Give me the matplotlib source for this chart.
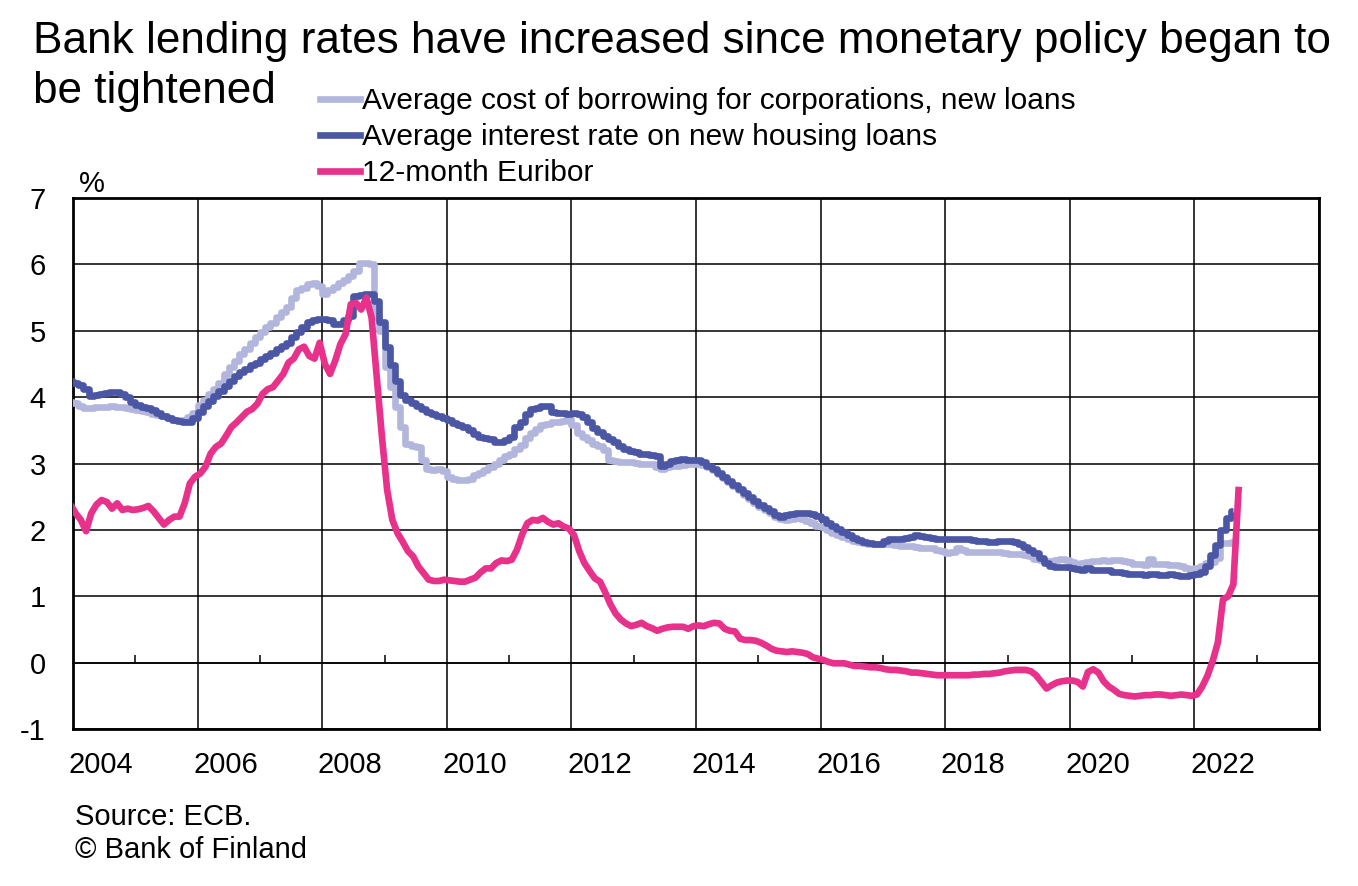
import numpy as np
import pandas as pd
import matplotlib.pyplot as plt
from matplotlib.lines import Line2D

plt.rcParams['font.family'] = ['Liberation Sans', 'DejaVu Sans']

# monthly values, starting Dec 2003
START = "2003-12-01"

corporate = [
    3.92,
    3.91, 3.86, 3.83, 3.84, 3.85, 3.85, 3.85, 3.86, 3.85, 3.85, 3.84, 3.82,   # 2004
    3.80, 3.79, 3.77, 3.75, 3.73, 3.71, 3.68, 3.66, 3.65, 3.65, 3.70, 3.76,   # 2005
    3.88, 3.95, 4.05, 4.12, 4.22, 4.35, 4.45, 4.55, 4.65, 4.72, 4.82, 4.90,   # 2006
    4.98, 5.06, 5.12, 5.20, 5.28, 5.36, 5.50, 5.62, 5.64, 5.70, 5.72, 5.68,   # 2007
    5.56, 5.62, 5.66, 5.72, 5.76, 5.82, 5.90, 6.02, 6.02, 6.01, 5.21, 5.00,   # 2008
    4.46, 4.15, 3.85, 3.55, 3.30, 3.27, 3.25, 3.05, 2.92, 2.90, 2.92, 2.88,   # 2009
    2.80, 2.77, 2.75, 2.75, 2.77, 2.82, 2.86, 2.90, 2.94, 3.00, 3.06, 3.12,   # 2010
    3.15, 3.22, 3.28, 3.38, 3.46, 3.52, 3.58, 3.60, 3.62, 3.63, 3.64, 3.67,   # 2011
    3.58, 3.46, 3.40, 3.35, 3.30, 3.26, 3.20, 3.06, 3.04, 3.03, 3.03, 3.02,   # 2012
    3.01, 3.00, 3.00, 2.99, 2.95, 2.92, 2.95, 2.96, 2.97, 2.98, 2.99, 3.00,   # 2013
    3.00, 2.98, 2.95, 2.90, 2.84, 2.78, 2.72, 2.66, 2.60, 2.53, 2.47, 2.40,   # 2014
    2.35, 2.30, 2.25, 2.20, 2.16, 2.15, 2.16, 2.18, 2.17, 2.13, 2.10, 2.06,   # 2015
    2.04, 2.00, 1.96, 1.92, 1.90, 1.87, 1.84, 1.82, 1.80, 1.79, 1.78, 1.78,   # 2016
    1.78, 1.78, 1.77, 1.76, 1.76, 1.75, 1.74, 1.73, 1.73, 1.72, 1.70, 1.68,   # 2017
    1.65, 1.67, 1.73, 1.70, 1.66, 1.66, 1.66, 1.66, 1.66, 1.66, 1.66, 1.65,   # 2018
    1.64, 1.63, 1.63, 1.62, 1.60, 1.56, 1.54, 1.53, 1.53, 1.54, 1.56, 1.55,   # 2019
    1.52, 1.48, 1.50, 1.52, 1.53, 1.53, 1.54, 1.53, 1.54, 1.54, 1.53, 1.51,   # 2020
    1.49, 1.48, 1.47, 1.56, 1.48, 1.48, 1.48, 1.47, 1.47, 1.45, 1.42, 1.40,   # 2021
    1.43, 1.45, 1.50, 1.52, 1.58, 1.80, 1.80, 1.82,                           # 2022
]

housing = [
    4.24,
    4.22, 4.18, 4.12, 4.02, 4.03, 4.04, 4.06, 4.07, 4.07, 4.05, 4.00, 3.93,   # 2004
    3.88, 3.85, 3.83, 3.80, 3.76, 3.72, 3.68, 3.65, 3.64, 3.63, 3.63, 3.68,   # 2005
    3.78, 3.86, 3.94, 4.02, 4.10, 4.17, 4.24, 4.32, 4.38, 4.43, 4.48, 4.52,   # 2006
    4.58, 4.62, 4.67, 4.72, 4.77, 4.82, 4.90, 4.98, 5.06, 5.13, 5.16, 5.18,   # 2007
    5.18, 5.16, 5.10, 5.10, 5.16, 5.22, 5.52, 5.54, 5.55, 5.55, 5.45, 5.13,   # 2008
    4.76, 4.48, 4.25, 4.03, 3.96, 3.91, 3.86, 3.82, 3.78, 3.75, 3.71, 3.68,   # 2009
    3.65, 3.61, 3.58, 3.55, 3.50, 3.44, 3.40, 3.38, 3.37, 3.33, 3.33, 3.36,   # 2010
    3.40, 3.55, 3.62, 3.74, 3.82, 3.84, 3.86, 3.87, 3.78, 3.76, 3.76, 3.75,   # 2011
    3.76, 3.75, 3.70, 3.62, 3.54, 3.48, 3.42, 3.37, 3.32, 3.26, 3.22, 3.19,   # 2012
    3.17, 3.15, 3.14, 3.13, 3.12, 2.97, 2.99, 3.04, 3.05, 3.07, 3.06, 3.05,   # 2013
    3.05, 3.03, 2.97, 2.92, 2.86, 2.80, 2.74, 2.68, 2.61, 2.55, 2.49, 2.44,   # 2014
    2.38, 2.33, 2.28, 2.22, 2.19, 2.22, 2.24, 2.25, 2.26, 2.26, 2.24, 2.21,   # 2015
    2.17, 2.11, 2.06, 2.01, 1.97, 1.93, 1.88, 1.85, 1.82, 1.80, 1.78, 1.79,   # 2016
    1.84, 1.86, 1.86, 1.87, 1.88, 1.90, 1.93, 1.91, 1.89, 1.88, 1.87, 1.86,   # 2017
    1.86, 1.86, 1.86, 1.86, 1.86, 1.85, 1.84, 1.83, 1.82, 1.82, 1.83, 1.83,   # 2018
    1.83, 1.81, 1.78, 1.74, 1.70, 1.65, 1.58, 1.50, 1.46, 1.44, 1.44, 1.44,   # 2019
    1.42, 1.41, 1.40, 1.42, 1.40, 1.40, 1.39, 1.39, 1.37, 1.36, 1.35, 1.34,   # 2020
    1.33, 1.33, 1.32, 1.33, 1.33, 1.32, 1.32, 1.33, 1.32, 1.30, 1.31, 1.32,   # 2021
    1.33, 1.36, 1.45, 1.62, 1.77, 2.00, 2.18, 2.28,                           # 2022
]

euribor = [
    2.38,
    2.25, 2.15, 1.98, 2.25, 2.38, 2.45, 2.42, 2.32, 2.40, 2.30, 2.32, 2.30,   # 2004
    2.31, 2.33, 2.36, 2.28, 2.18, 2.08, 2.15, 2.20, 2.20, 2.40, 2.70, 2.80,   # 2005
    2.85, 2.95, 3.15, 3.25, 3.30, 3.42, 3.55, 3.62, 3.70, 3.78, 3.82, 3.90,   # 2006
    4.05, 4.12, 4.15, 4.25, 4.35, 4.52, 4.58, 4.72, 4.76, 4.62, 4.58, 4.82,   # 2007
    4.50, 4.35, 4.55, 4.80, 4.95, 5.40, 5.42, 5.32, 5.50, 5.20, 4.30, 3.40,   # 2008
    2.60, 2.15, 1.95, 1.82, 1.68, 1.60, 1.45, 1.35, 1.25, 1.23, 1.23, 1.25,   # 2009
    1.24, 1.23, 1.22, 1.22, 1.25, 1.28, 1.36, 1.42, 1.42, 1.50, 1.54, 1.53,   # 2010
    1.55, 1.70, 1.93, 2.10, 2.15, 2.14, 2.18, 2.12, 2.08, 2.10, 2.05, 2.02,   # 2011
    1.92, 1.68, 1.50, 1.38, 1.27, 1.22, 1.06, 0.88, 0.74, 0.65, 0.59, 0.55,   # 2012
    0.57, 0.60, 0.55, 0.52, 0.48, 0.51, 0.53, 0.54, 0.54, 0.54, 0.51, 0.55,   # 2013
    0.56, 0.55, 0.58, 0.60, 0.59, 0.51, 0.48, 0.47, 0.36, 0.34, 0.34, 0.33,   # 2014
    0.30, 0.26, 0.21, 0.18, 0.17, 0.16, 0.17, 0.16, 0.15, 0.13, 0.08, 0.06,   # 2015
    0.04, 0.01, -0.01, -0.01, -0.01, -0.03, -0.05, -0.05, -0.06, -0.07, -0.07, -0.08,  # 2016
    -0.10, -0.11, -0.11, -0.12, -0.13, -0.15, -0.15, -0.16, -0.17, -0.18, -0.19, -0.19,  # 2017
    -0.19, -0.19, -0.19, -0.19, -0.19, -0.18, -0.18, -0.17, -0.17, -0.16, -0.15, -0.13,  # 2018
    -0.12, -0.11, -0.11, -0.11, -0.13, -0.19, -0.29, -0.39, -0.34, -0.30, -0.28, -0.27,  # 2019
    -0.27, -0.29, -0.36, -0.14, -0.10, -0.15, -0.28, -0.36, -0.41, -0.47, -0.49, -0.50,  # 2020
    -0.51, -0.50, -0.49, -0.49, -0.48, -0.48, -0.49, -0.50, -0.49, -0.48, -0.49, -0.50,  # 2021
    -0.48, -0.36, -0.20, 0.02, 0.30, 0.95, 1.00, 1.18, 2.60,                  # 2022
]

labels = [
    "Average cost of borrowing for corporations, new loans",
    "Average interest rate on new housing loans",
    "12-month Euribor",
]
colors = ["#b3b6dc", "#4b56a4", "#e8318a"]

TITLE_1 = "Bank lending rates have increased since monetary policy began to"
TITLE_2 = "be tightened"


def decimal_months(n):
    d = pd.date_range(START, periods=n, freq="MS")
    # mid-month position in decimal years
    return d.year + (d.month - 1) / 12 + 1 / 24


def main():
    fig, ax = plt.subplots(figsize=(13.58, 8.86), dpi=100)
    fig.subplots_adjust(left=0.0538, right=0.9713, top=0.7765, bottom=0.1772)

    lw = 4.8
    ax.plot(decimal_months(len(corporate)), corporate, color=colors[0], lw=lw,
            drawstyle="steps-mid", solid_capstyle="butt", zorder=3)
    ax.plot(decimal_months(len(housing)), housing, color=colors[1], lw=lw,
            drawstyle="steps-mid", solid_capstyle="butt", zorder=4)
    ax.plot(decimal_months(len(euribor)), euribor, color=colors[2], lw=lw,
            solid_joinstyle="round", zorder=5)

    ax.set_xlim(2004, 2024)
    ax.set_ylim(-1, 7)
    ax.set_yticks(np.arange(-1, 8, 1))
    ax.set_yticklabels([str(v) for v in range(-1, 8)])

    even_years = np.arange(2004, 2025, 2)
    ax.set_xticks(even_years)
    ax.set_xticklabels([])
    ax.set_xticks(even_years[:-1] + 0.45, minor=True)
    ax.set_xticklabels([str(y) for y in even_years[:-1]], minor=True)

    ax.grid(True, which="major", color="black", lw=1.1)
    ax.set_axisbelow(True)
    ax.tick_params(axis="both", which="both", length=0, labelsize=21)
    ax.tick_params(axis="y", pad=19.5)
    ax.tick_params(axis="x", which="minor", pad=16)
    for s in ax.spines.values():
        s.set_linewidth(2.0)

    # category axis crossing at zero, with ticks at odd years
    sec = ax.secondary_xaxis(0.125)
    sec.set_xticks(np.arange(2005, 2024, 2))
    sec.tick_params(direction="in", length=6, width=1.1, labelbottom=False)
    sec.spines["bottom"].set_linewidth(1.1)

    handles = [Line2D([], [], color=c, lw=lw) for c in colors]
    fig.legend(handles, labels, loc="upper left", bbox_to_anchor=(0.2356, 0.9013),
               frameon=False, fontsize=21.5, handlelength=1.34, handletextpad=0.06,
               labelspacing=0.26, borderpad=0, borderaxespad=0)

    fig.text(33 / 1358, 1 - 53 / 886, TITLE_1, fontsize=31.8, va="baseline")
    fig.text(33 / 1358, 1 - 103 / 886, TITLE_2, fontsize=31.8, va="baseline")
    fig.text(79 / 1358, 1 - 192 / 886, "%", fontsize=21, va="baseline")
    fig.text(75 / 1358, 1 - 825 / 886, "Source: ECB.", fontsize=21, va="baseline")
    fig.text(75 / 1358, 1 - 858 / 886, "\u00a9 Bank of Finland", fontsize=21,
             va="baseline")

    fig.savefig("out.png", dpi=100)
    plt.close(fig)


if __name__ == "__main__":
    main()
